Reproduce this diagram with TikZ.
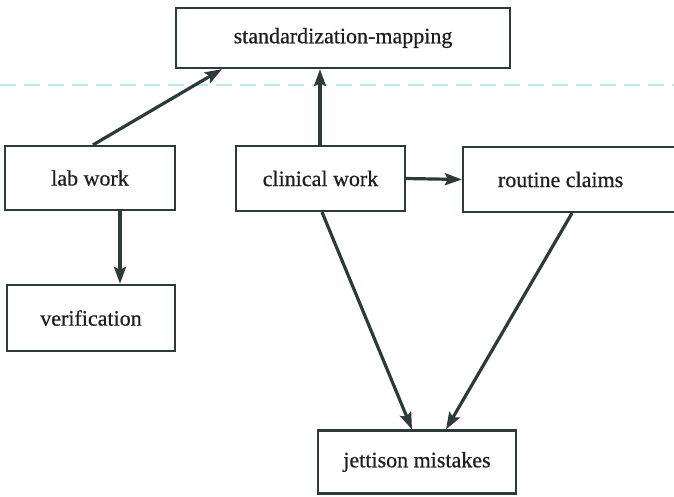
\documentclass[tikz,border=0pt]{standalone}
\usepackage{fontspec}
\setmainfont{Liberation Serif}[FakeBold=0.6]
\usetikzlibrary{arrows.meta}
\definecolor{ink}{HTML}{2E3A38}
\definecolor{scanline}{HTML}{BFE6EE}
\begin{document}
\begin{tikzpicture}[x=1pt,y=-1pt,
  box/.style={draw=ink,line width=2.2pt,fill=white,inner sep=0pt,font=\fontsize{22}{26}\selectfont,text=black!88},
  arr/.style={draw=ink,line width=3.2pt,-{Stealth[length=17pt,width=12pt,inset=3pt]}}]
\useasboundingbox (0,0) rectangle (674,496);
% faint dashed rule across the page
\draw[scanline,line width=1.2pt,dash pattern=on 16pt off 8pt] (0,85) -- (674,85);
\node[box,minimum width=334pt,minimum height=60pt] (std) at (343,38) {standardization-mapping};
\node[box,minimum width=170pt,minimum height=64pt] (lab) at (90,178) {lab work};
\node[box,minimum width=169pt,minimum height=65pt] (clin) at (320.5,178.5) {clinical work};
\node[box,minimum width=226pt,minimum height=65pt] (rout) at (576,179.5) {\makebox[200pt][l]{\hspace*{22pt}routine claims}};
\node[box,minimum width=168pt,minimum height=66pt] (ver) at (91,318) {verification};
\node[box,minimum width=198pt,minimum height=63pt] (jet) at (417,462) {jettison mistakes};
\draw[arr] ([xshift=3pt]lab.north) -- ([xshift=-121pt]std.south);
\draw[arr] ([xshift=-0.5pt]clin.north) -- ([xshift=-23pt]std.south);
\draw[arr] (clin.east) -- (rout.west);
\draw[arr] ([xshift=30pt]lab.south) -- ([xshift=29pt]ver.north);
\draw[arr] ([xshift=1.5pt]clin.south) -- ([xshift=-5pt]jet.north);
\draw[arr] ([xshift=-4pt]rout.south) -- ([xshift=29pt]jet.north);
\end{tikzpicture}
\end{document}
